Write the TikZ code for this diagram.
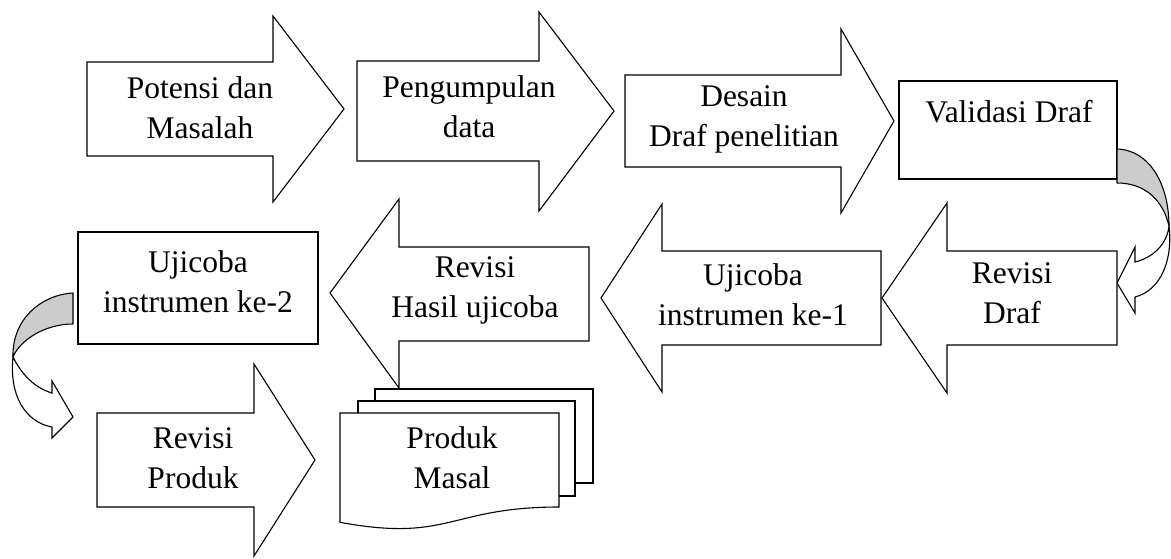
\documentclass[tikz,border=0pt]{standalone}
\usepackage{fontspec}
\setmainfont{Liberation Serif}
\definecolor{bandgray}{RGB}{204,204,204}
\begin{document}
\begin{tikzpicture}[x=1pt,y=-1pt,
  blk/.style={draw=black,line width=1.1pt,fill=white,line join=miter},
  band/.style={draw=black,line width=1.1pt,fill=bandgray,line join=round},
  lbl/.style={align=center,inner sep=0pt,font=\fontsize{31.5}{40}\selectfont}]
\useasboundingbox (0,0) rectangle (1171,558);
% top row
\draw[blk] (87,62) -- (273,62) -- (273,16) -- (344,109) -- (273,202) -- (273,156) -- (87,156) -- cycle;
\draw[blk] (357,61) -- (539,61) -- (539,12) -- (614,111) -- (539,211) -- (539,161) -- (357,161) -- cycle;
\draw[blk] (625,75) -- (841,75) -- (841,29) -- (894,121) -- (841,213) -- (841,167) -- (625,167) -- cycle;
\draw[blk] (899,81) rectangle (1117,179);
% curved arrow right
\draw[band] (1117,149) .. controls (1150,150) and (1169,185) .. (1169,226)
  .. controls (1163,200) and (1145,183) .. (1117,183) -- cycle;
\draw[blk] (1169,226) .. controls (1167,245) and (1152,258) .. (1135,262) -- (1135,247) -- (1117,283)
  -- (1135,313) -- (1135,297) .. controls (1162,290) and (1173,258) .. (1169,226) -- cycle;
% middle row
\draw[blk] (1117,251) -- (947,251) -- (947,203) -- (882,298) -- (947,393) -- (947,345) -- (1117,345) -- cycle;
\draw[blk] (881,251) -- (662,251) -- (662,204) -- (601,298) -- (662,392) -- (662,345) -- (881,345) -- cycle;
\draw[blk] (589,247) -- (399,247) -- (399,199) -- (330,293) -- (399,388) -- (399,341) -- (589,341) -- cycle;
\draw[blk] (78,232) rectangle (318,344);
% curved arrow left
\draw[band] (73,293) .. controls (40,295) and (12,320) .. (13,357)
  .. controls (20,340) and (45,324) .. (73,324) -- cycle;
\draw[blk] (13,357) .. controls (22,375) and (35,388) .. (52,393) -- (52,381) -- (73,417)
  -- (52,438) -- (52,427) .. controls (25,422) and (9,395) .. (13,357) -- cycle;
% bottom row
\draw[blk] (97,413) -- (254,413) -- (254,364) -- (315,460) -- (254,556) -- (254,507) -- (97,507) -- cycle;
\draw[blk] (375,389) rectangle (593,483);
\draw[blk] (358,401) rectangle (575,496);
\draw[blk] (340,413) -- (559,413) -- (559,507) .. controls (449.5,507) and (449.5,542.6) .. (340,522.3) -- cycle;
% labels
\node[lbl] (potensi) at (200,108) {Potensi dan\\Masalah};
\node[lbl] (pengumpulan) at (469,107) {Pengumpulan\\data};
\node[lbl] (desain) at (744,119) {Desain\\Draf penelitian};
\node[lbl] (validasi) at (1009,112) {Validasi Draf};
\node[lbl] (revdraf) at (1012,293) {Revisi\\Draf};
\node[lbl] (uji1) at (753,295) {Ujicoba\\instrumen ke-1};
\node[lbl] (revhasil) at (475,290) {Revisi\\Hasil ujicoba};
\node[lbl] (uji2) at (198,282) {Ujicoba\\instrumen ke-2};
\node[lbl] (revproduk) at (193,458) {Revisi\\Produk};
\node[lbl] (masal) at (452,458) {Produk\\Masal};
\end{tikzpicture}
\end{document}
